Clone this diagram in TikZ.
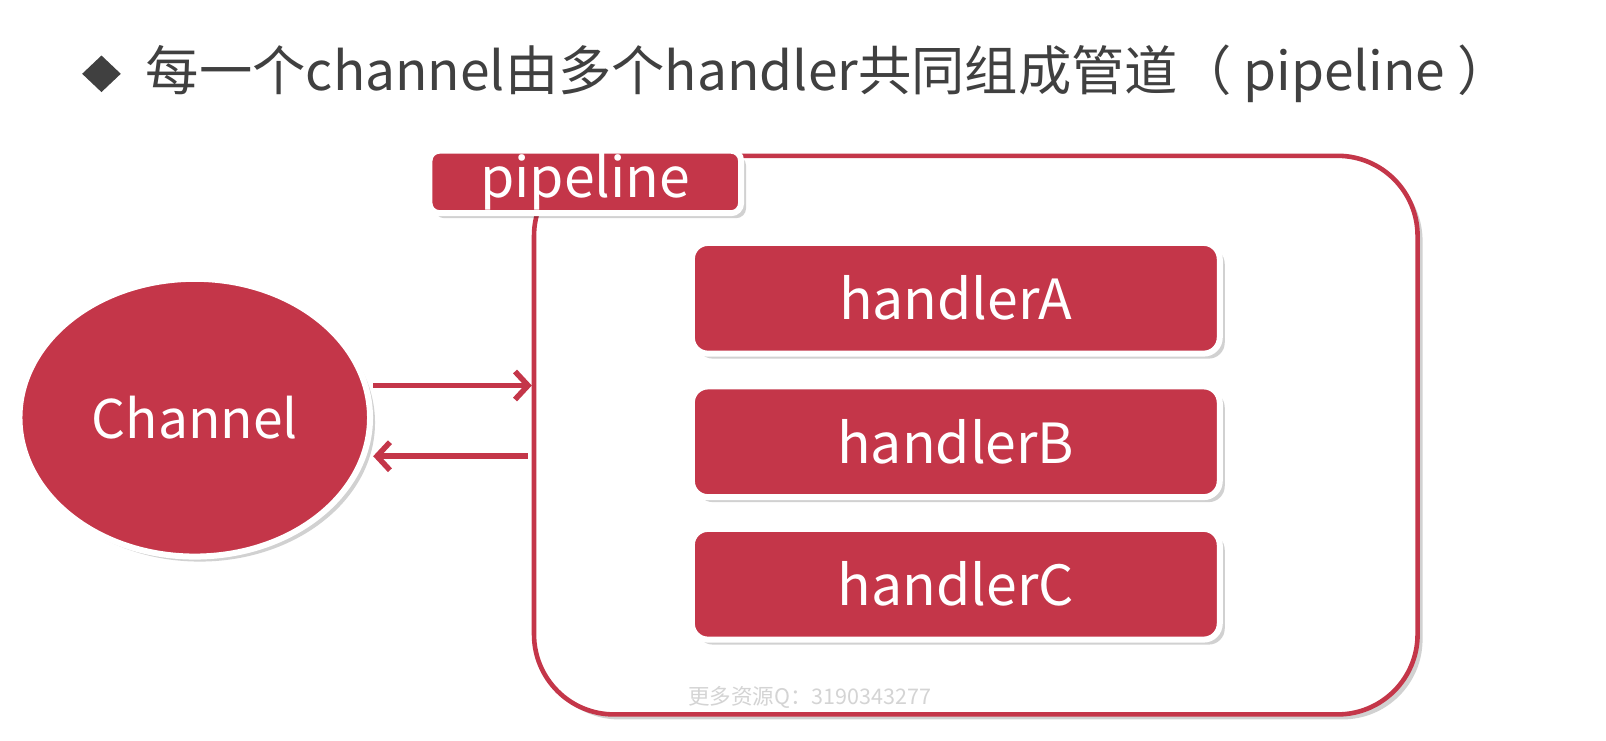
\documentclass[tikz,border=0pt]{standalone}
\usepackage{fontspec}
\setmainfont{Noto Sans CJK SC}
\usetikzlibrary{shapes.geometric,shadows,arrows.meta}
\definecolor{hred}{RGB}{196,54,73}
\definecolor{tgray}{RGB}{64,64,64}
\tikzset{
  shad/.style={drop shadow={shadow xshift=2.5pt,shadow yshift=-2.5pt,fill=black,opacity=.18}},
  handlerbox/.style={shad,rectangle,rounded corners=8pt,fill=hred,draw=white,line width=3pt,
    minimum width=257.5pt,minimum height=54pt,text=white,font=\fontsize{27}{32}\selectfont,inner sep=0pt},
  conn/.style={draw=hred,line width=2.75pt,-{Straight Barb[length=6.5pt,width=14pt]}},
}
\begin{document}
\begin{tikzpicture}[x=0.5pt,y=-0.5pt]
\useasboundingbox[fill=white] (0,0) rectangle (1606,740);
\begin{scope}[scale=1.025,transform shape]
% title
\node[diamond,fill=tgray,inner sep=0pt,minimum width=19pt,minimum height=18pt] (bullet) at (99,72) {};
\node[anchor=west,text=tgray,font=\fontsize{26}{30}\selectfont,inner sep=0pt] (title) at (142,72)
  {每一个channel由多个handler共同组成管道（ pipeline ）};
% pipeline container
\node[shad,rectangle,rounded corners=40pt,draw=hred,fill=white,line width=2.3pt,
  minimum width=431pt,minimum height=272.5pt] (pipe) at (952,424.5) {};
% pipeline label
\node[shad,rectangle,rounded corners=5pt,fill=hred,draw=white,line width=3pt,
  minimum width=152pt,minimum height=30.5pt,inner sep=0pt,text=white,
  font=\fontsize{27}{30}\selectfont] (plabel) at (571,177.5) {pipeline};
% handlers
\node[handlerbox] (hA) at (932.5,291) {handlerA};
\node[handlerbox] (hB) at (932.5,431) {handlerB};
\node[handlerbox] (hC) at (932.5,570) {handlerC};
% channel
\node[shad,ellipse,fill=hred,draw=white,line width=3pt,minimum width=171pt,minimum height=135.5pt,
  inner sep=0pt,text=white,font=\fontsize{26}{30}\selectfont] (chan) at (190,407.5) {Channel};
% connectors
\draw[conn] ([yshift=15.75pt]chan.east) -- ([yshift=15.75pt]chan.east -| pipe.west);
\draw[conn] ([yshift=-18.75pt,xshift=-2pt]chan.east -| pipe.west) -- ([yshift=-18.75pt]chan.east);
% watermark
\node[text=black!17,font=\fontsize{10.5}{12}\selectfont\itshape,inner sep=0pt] (wm) at (790,680)
  {更多资源Q：3190343277};
\end{scope}
\end{tikzpicture}
\end{document}
